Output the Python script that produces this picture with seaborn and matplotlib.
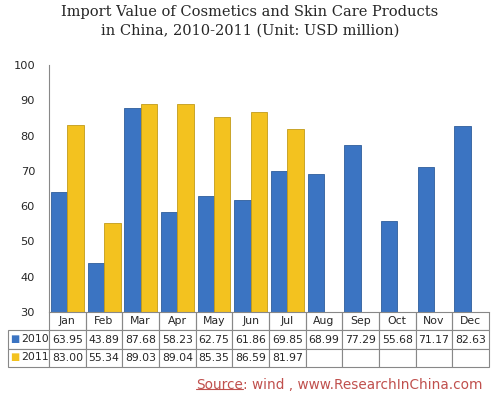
import numpy as np
import pandas as pd
import matplotlib
matplotlib.use('Agg')
import matplotlib.pyplot as plt
import seaborn as sns

# data
months = ['Jan', 'Feb', 'Mar', 'Apr', 'May', 'Jun', 'Jul', 'Aug', 'Sep', 'Oct', 'Nov', 'Dec']
values_2010 = [63.95, 43.89, 87.68, 58.23, 62.75, 61.86, 69.85, 68.99, 77.29, 55.68, 71.17, 82.63]
values_2011 = [83.00, 55.34, 89.03, 89.04, 85.35, 86.59, 81.97]
years = ['2010', '2011']
colors = {'2010': '#3b74c2', '2011': '#f3c21f'}

rows = []
for m, v in zip(months, values_2010):
    rows.append({'month': m, 'year': '2010', 'value': v})
for m, v in zip(months, values_2011):
    rows.append({'month': m, 'year': '2011', 'value': v})
df = pd.DataFrame(rows)

sns.set_style('white')
plt.rcParams['font.family'] = ['DejaVu Sans']

fig = plt.figure(figsize=(5, 3.95), dpi=100)
ax = fig.add_axes([0.098, 0.2101, 0.88, 0.6253])

sns.barplot(data=df, x='month', y='value', hue='year', order=months, hue_order=years,
            palette=colors, saturation=1, width=0.9, legend=False, ax=ax,
            edgecolor='none', linewidth=0)

# darker edge for a bit of the bevel look
for p in ax.patches:
    fc = p.get_facecolor()
    p.set_edgecolor(tuple(c * 0.8 for c in fc[:3]) + (1,))
    p.set_linewidth(0.6)

ax.set_ylim(30, 100)
ax.set_xlim(-0.5, 11.5)
ax.set_yticks(range(30, 101, 10))
ax.tick_params(axis='y', length=0, labelsize=8.2, pad=10)
ax.set_xticks([])
ax.set_xlabel('')
ax.set_ylabel('')
for s in ['top', 'right']:
    ax.spines[s].set_visible(False)
ax.spines['left'].set_color('#888888')
ax.spines['bottom'].set_color('#888888')
ax.spines['left'].set_linewidth(0.8)
ax.spines['bottom'].set_linewidth(0.8)

# data table under the plot
cell_text = [[''] + months,
             [''] + ['%.2f' % v for v in values_2010],
             [''] + ['%.2f' % v for v in values_2011] + [''] * (12 - len(values_2011))]
first_w = 41 / 481
month_w = (1 - first_w) / 12
tbl = ax.table(cellText=cell_text, colWidths=[first_w] + [month_w] * 12,
               bbox=[-0.0932, -0.2227, 1.093, 0.2227], cellLoc='center')
tbl.auto_set_font_size(False)
tbl.set_fontsize(7.8)
for (r, c), cell in tbl.get_celld().items():
    cell.set_edgecolor('#888888')
    cell.set_linewidth(0.8)
    if r == 0:
        cell.visible_edges = '' if c == 0 else 'BLR'

# row labels with colored legend keys
for yr, yy in zip(years, [-0.109, -0.184]):
    ax.text(-0.0886, yy, '\u25a0', color=colors[yr], fontsize=7, transform=ax.transAxes,
            ha='left', va='center', clip_on=False)
    ax.text(-0.0636, yy, yr, fontsize=7.8, transform=ax.transAxes,
            ha='left', va='center', clip_on=False)

fig.text(0.5, 0.988, 'Import Value of Cosmetics and Skin Care Products\nin China, 2010-2011 (Unit: USD million)',
         ha='center', va='top', fontsize=10.5, family='DejaVu Serif', linespacing=1.45)

src1 = fig.text(0.392, 0.008, 'Source', color='#c0504d', fontsize=9.8, ha='left', va='bottom')
fig.canvas.draw()
bb = src1.get_window_extent().transformed(fig.transFigure.inverted())
fig.add_artist(plt.Line2D([bb.x0, bb.x1], [bb.y0 + 0.006, bb.y0 + 0.006], color='#c0504d', lw=0.8,
                          transform=fig.transFigure))
fig.text(bb.x1, 0.008, ': wind , www.ResearchInChina.com', color='#c0504d', fontsize=9.8,
         ha='left', va='bottom')

fig.savefig('out.png', dpi=100)
